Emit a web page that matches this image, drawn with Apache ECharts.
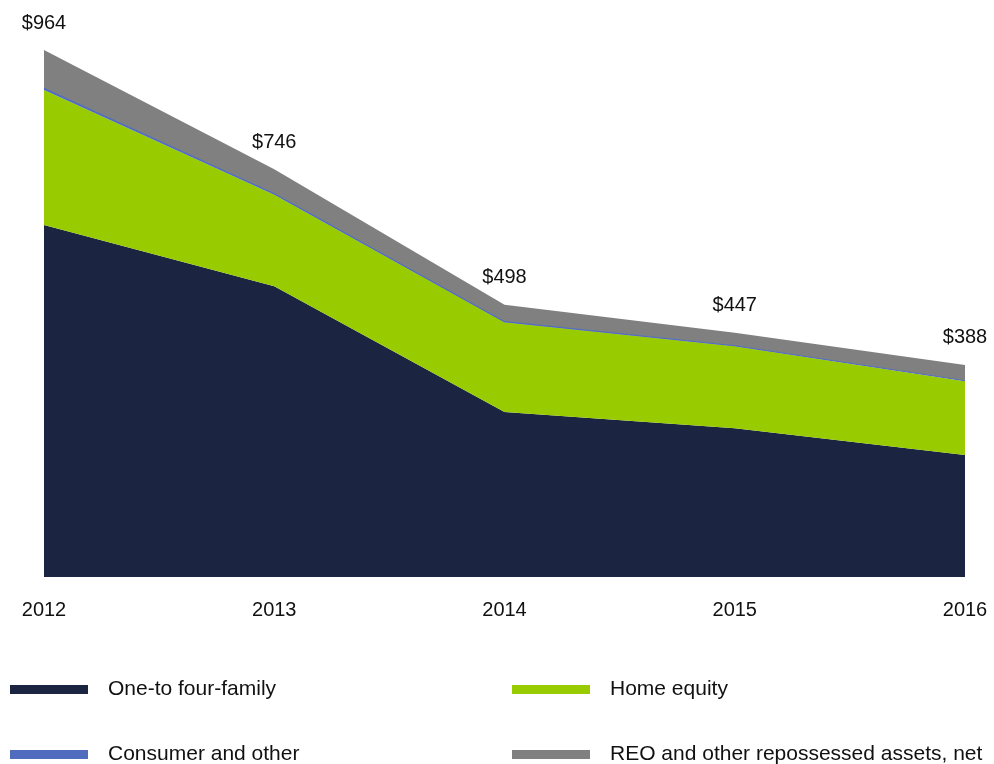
<!DOCTYPE html>
<html>
<head>
    <meta charset="utf-8">
    <title>Stacked area</title>
    <script src="https://cdn.jsdelivr.net/npm/echarts@6/dist/echarts.min.js"></script>
    <style>
        html, body { margin: 0; padding: 0; background: #fff; }
        #main { width: 994px; height: 764px; }
    </style>
</head>
<body>
    <div id="main"></div>
    <script type="text/javascript">
        var years = ['2012', '2013', '2014', '2015', '2016'];
        var oneToFour = [644, 532, 302, 272, 223];
        var homeEquity = [247, 167, 164, 150, 135];
        var consumer = [3, 2, 1, 1, 1];
        var reo = [70, 45, 31, 24, 29];
        var totals = [964, 746, 498, 447, 388];

        var font = 'Liberation Sans, Arial, sans-serif';
        var myChart = echarts.init(document.getElementById('main'));

        function areaSeries(name, data, color, lineW) {
            return {
                name: name,
                type: 'line',
                stack: 'total',
                data: data,
                symbol: 'none',
                color: color,
                lineStyle: { width: lineW, color: color },
                areaStyle: { color: color, opacity: 1 }
            };
        }

        var series = [
            areaSeries('One-to four-family', oneToFour, '#1b2440', 0),
            areaSeries('Home equity', homeEquity, '#99cc00', 0),
            areaSeries('Consumer and other', consumer, '#4f6cbf', 1.2),
            areaSeries('REO and other repossessed assets, net', reo, '#808080', 0)
        ];
        // totals sit above the top layer
        series[3].symbol = 'circle';
        series[3].symbolSize = 0;
        series[3].showSymbol = true;
        series[3].label = {
            show: true,
            position: 'top',
            distance: 17,
            color: '#111',
            fontSize: 20,
            fontFamily: font,
            formatter: function (p) { return '$' + totals[p.dataIndex]; }
        };

        var legendText = { fontSize: 21, color: '#111', fontFamily: font, padding: [0, 0, 0, 15] };
        function legendAt(left, top, name) {
            return {
                left: left, top: top, padding: 0, icon: 'rect',
                itemWidth: 78, itemHeight: 9,
                textStyle: legendText,
                data: [name]
            };
        }

        var option = {
            animation: false,
            grid: { left: 44, right: 29, top: 50, bottom: 187 },
            legend: [
                legendAt(10, 679, 'One-to four-family'),
                legendAt(512, 679, 'Home equity'),
                legendAt(10, 744, 'Consumer and other'),
                legendAt(512, 744, 'REO and other repossessed assets, net')
            ],
            xAxis: {
                type: 'category',
                boundaryGap: false,
                data: years,
                axisLine: { show: false },
                axisTick: { show: false },
                axisLabel: { fontSize: 20, color: '#111', fontFamily: font, margin: 23 }
            },
            yAxis: {
                type: 'value',
                min: 0,
                max: 964,
                show: false
            },
            series: series
        };

        myChart.setOption(option);
    </script>
</body>
</html>
